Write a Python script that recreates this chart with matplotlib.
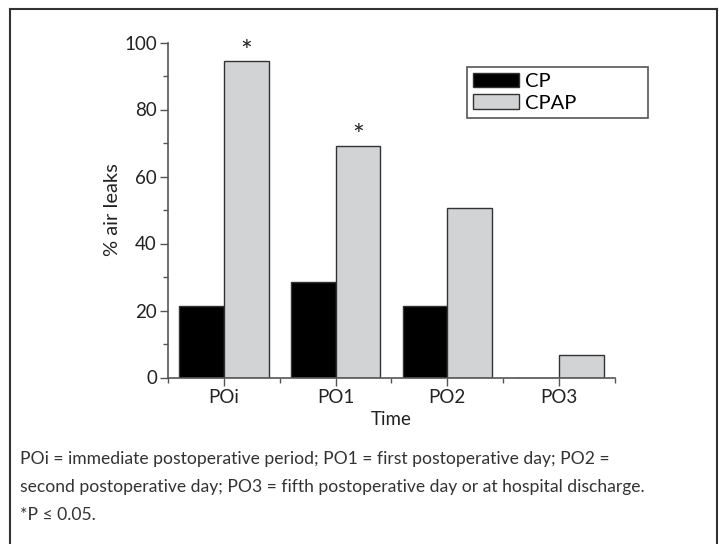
import matplotlib.pyplot as plt
from matplotlib.lines import Line2D
import numpy as np

plt.rcParams['font.family'] = ['Lato', 'DejaVu Sans']

categories = ['POi', 'PO1', 'PO2', 'PO3']
cp_values = [21.4, 28.6, 21.4, 0]
cpap_values = [94.5, 69.2, 50.6, 6.6]
significant = [True, True, False, False]
caption = ("POi = immediate postoperative period; PO1 = first postoperative day; PO2 =\n"
           "second postoperative day; PO3 = fifth postoperative day or at hospital discharge.\n"
           "*P \u2264 0.05.")

fig = plt.figure(figsize=(7.19, 5.44), dpi=100)
ax = fig.add_axes([168 / 719, 1 - 377.5 / 544, (614.7 - 168) / 719, (377.5 - 42.5) / 544])

x = np.arange(len(categories))
w = 0.4
axis_col = '#555555'
ax.bar(x - w, cp_values, w, align='edge', color='black', edgecolor='#333333',
       linewidth=1, label='CP')
ax.bar(x, cpap_values, w, align='edge', color='#d1d3d4', edgecolor='#333333',
       linewidth=1, label='CPAP')

# significance markers
for i, sig in enumerate(significant):
    if sig:
        ax.text(x[i] + w / 2, cpap_values[i] - 1.4, '*', ha='center', va='bottom',
                fontsize=20, color='#222222')

ax.set_xlim(-0.5, 3.5)
ax.set_ylim(0, 100)
ax.set_xticks(x)
ax.set_xticklabels(categories)
ax.set_xticks(np.arange(-0.5, 4, 1), minor=True)
ax.set_yticks([0, 20, 40, 60, 80, 100])
ax.set_yticks([10, 30, 50, 70, 90], minor=True)

for s in ['top', 'right']:
    ax.spines[s].set_visible(False)
for s in ['left', 'bottom']:
    ax.spines[s].set_color(axis_col)
    ax.spines[s].set_linewidth(1.2)
ax.tick_params(which='major', length=6, width=1, color=axis_col,
               labelsize=13.5, labelcolor='#222222', pad=2)
ax.tick_params(which='minor', length=3.5, width=1, color=axis_col)

ax.set_ylabel('% air leaks', fontsize=14.5, color='#222222', labelpad=2)
ax.set_xlabel('Time', fontsize=13.5, color='#222222', labelpad=4)

leg = ax.legend(loc='upper left', bbox_to_anchor=(466.7 / 719, 1 - 120.7 / 544,
                                                   (648 - 466.7) / 719, (120.7 - 66.7) / 544),
                bbox_transform=fig.transFigure, mode='expand', fontsize=14.5,
                handlelength=2.3, handleheight=0.75, handletextpad=0.3,
                labelspacing=0.2, borderpad=0.3, borderaxespad=0,
                fancybox=False, framealpha=1, edgecolor=axis_col)
leg.get_frame().set_linewidth(1.2)

fig.text(20 / 719, 1 - 451 / 544, caption, ha='left', va='top', fontsize=12.6,
         color='#333333', linespacing=1.92)

# frame around the whole figure
frame_col = '#333333'
for xs, ys in [([10, 10], [544, 9]), ([10, 717], [9, 9]), ([717, 717], [9, 544])]:
    fig.add_artist(Line2D([v / 719 for v in xs], [1 - v / 544 for v in ys],
                          color=frame_col, linewidth=1.5, transform=fig.transFigure))

fig.savefig('out.png', dpi=100)
